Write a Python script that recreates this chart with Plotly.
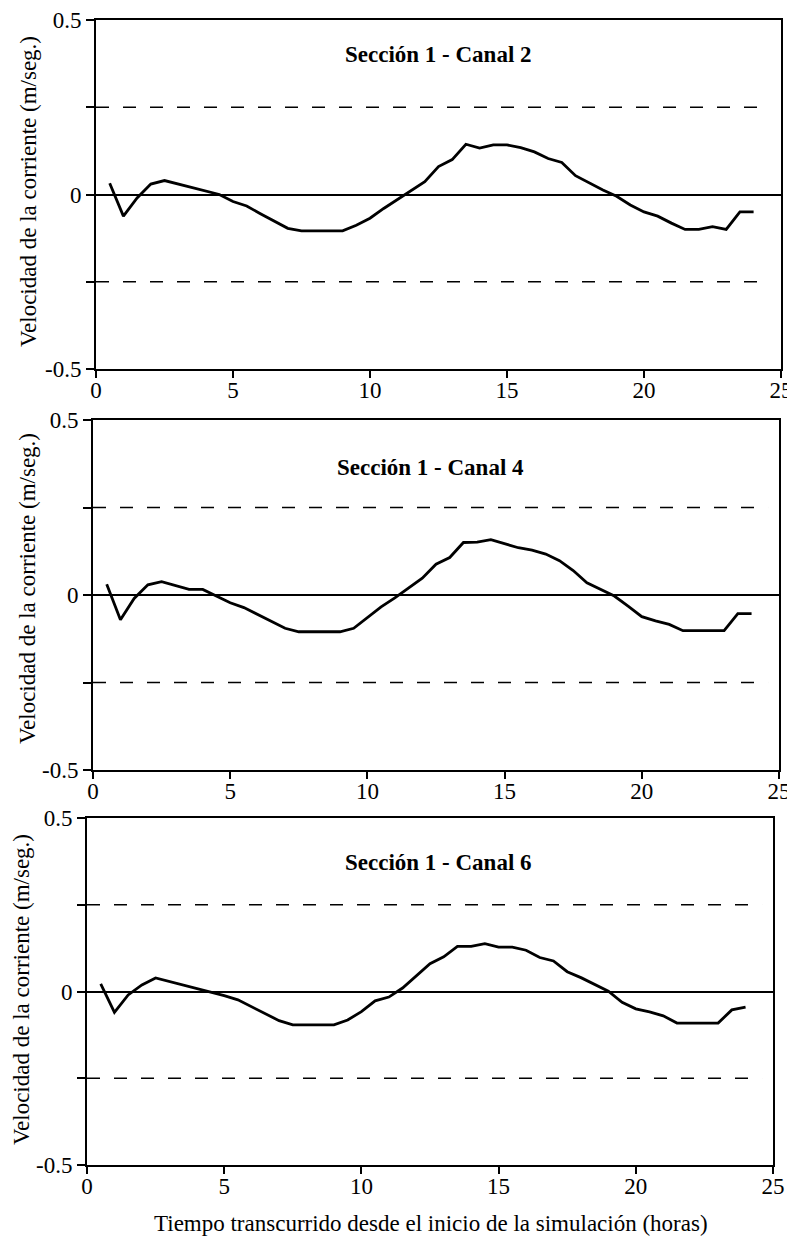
import plotly.graph_objects as go

hours = [0.5, 1.0, 1.5, 2.0, 2.5, 3.0, 3.5, 4.0, 4.5, 5.0, 5.5, 6.0, 6.5, 7.0, 7.5, 8.0,
         8.5, 9.0, 9.5, 10.0, 10.5, 11.0, 11.5, 12.0, 12.5, 13.0, 13.5, 14.0, 14.5, 15.0,
         15.5, 16.0, 16.5, 17.0, 17.5, 18.0, 18.5, 19.0, 19.5, 20.0, 20.5, 21.0, 21.5,
         22.0, 22.5, 23.0, 23.5, 24.0]

canal_2 = [0.032, -0.062, -0.010, 0.030, 0.040, 0.030, 0.020, 0.010, 0.000, -0.020,
           -0.033, -0.055, -0.077, -0.097, -0.104, -0.104, -0.104, -0.104, -0.088, -0.068,
           -0.040, -0.015, 0.010, 0.037, 0.080, 0.100, 0.144, 0.133, 0.142, 0.142,
           0.134, 0.122, 0.103, 0.092, 0.054, 0.033, 0.013, -0.005, -0.030, -0.050,
           -0.062, -0.082, -0.100, -0.100, -0.092, -0.100, -0.050, -0.050]

canal_4 = [0.031, -0.071, -0.010, 0.029, 0.038, 0.026, 0.016, 0.016, -0.002, -0.022,
           -0.036, -0.056, -0.076, -0.095, -0.105, -0.105, -0.105, -0.105, -0.095, -0.065,
           -0.034, -0.008, 0.020, 0.048, 0.088, 0.107, 0.150, 0.151, 0.158, 0.146,
           0.135, 0.128, 0.117, 0.098, 0.070, 0.035, 0.016, -0.003, -0.032, -0.062,
           -0.074, -0.084, -0.102, -0.102, -0.102, -0.102, -0.053, -0.053]

canal_6 = [0.022, -0.060, -0.010, 0.019, 0.039, 0.029, 0.019, 0.009, -0.001, -0.012,
           -0.024, -0.044, -0.064, -0.084, -0.096, -0.096, -0.096, -0.096, -0.082, -0.058,
           -0.027, -0.016, 0.010, 0.045, 0.080, 0.100, 0.130, 0.130, 0.138, 0.128,
           0.128, 0.119, 0.098, 0.088, 0.057, 0.040, 0.020, 0.001, -0.031, -0.050,
           -0.059, -0.070, -0.091, -0.091, -0.091, -0.091, -0.053, -0.045]

panel_titles = ["Sección 1 - Canal 2", "Sección 1 - Canal 4", "Sección 1 - Canal 6"]
limit_levels = [0.25, -0.25]
limit_extent = [0, 24.6]
x_ticks = [0, 5, 10, 15, 20, 25]
y_ticks = [-0.5, -0.25, 0, 0.25, 0.5]
y_ticktext = ["-0.5", "", "0", "", "0.5"]
y_title = "Velocidad de la corriente (m/seg.)"
x_title = "Tiempo transcurrido desde el inicio de la simulación (horas)"

series = [canal_2, canal_4, canal_6]

# The page body adds an 8 px margin, so the figure is laid out in page pixels minus 8.
OFF = 8
W, H = 795 - OFF, 1244 - 2 * OFF
# pixel boxes (page coords) of each panel: (left, right, top, bottom)
boxes = [(96, 781, 20, 369), (93, 779, 420, 770), (87, 773, 818, 1165)]
title_pos = [(12.5, 0.40), (12.3, 0.363), (12.8, 0.373)]
ytitle_px = [(28, 192), (27, 589), (21, 990)]
xtitle_px = (431, 1223)


def fx(px):
    return (px - OFF) / W


def fy(py):
    return 1 - (py - OFF) / H


FONT = "Liberation Serif"

fig = go.Figure()
layout = dict(
    width=W, height=H,
    margin=dict(l=0, r=0, t=0, b=0),
    paper_bgcolor="white", plot_bgcolor="white",
    showlegend=False,
    font=dict(family=FONT, size=22, color="black"),
)

annotations = []
for i, vals in enumerate(series):
    n = "" if i == 0 else str(i + 1)
    xa, ya = "x" + n, "y" + n
    l, r, t, b = boxes[i]
    layout["xaxis" + n] = dict(
        domain=[fx(l), fx(r)], anchor=ya, range=[0, 25],
        tickvals=x_ticks, ticks="outside", ticklen=7, tickwidth=1.5, tickcolor="black",
        ticklabelstandoff=-8,
        showline=True, linecolor="black", linewidth=2, mirror=True,
        showgrid=False, zeroline=False, automargin=False,
        tickfont=dict(family=FONT, size=23, color="black"),
    )
    layout["yaxis" + n] = dict(
        domain=[fy(b), fy(t)], anchor=xa, range=[-0.5, 0.5],
        tickvals=y_ticks, ticktext=y_ticktext, ticks="outside", ticklen=8,
        tickwidth=1.5, tickcolor="black",
        showline=True, linecolor="black", linewidth=2, mirror=True,
        showgrid=False, zeroline=True, zerolinecolor="black", zerolinewidth=1.5,
        automargin=False,
        tickfont=dict(family=FONT, size=23, color="black"),
    )
    for lev in limit_levels:
        fig.add_trace(go.Scatter(
            x=limit_extent, y=[lev, lev], mode="lines", xaxis=xa, yaxis=ya,
            line=dict(color="black", width=1.6, dash="13px,14px"), hoverinfo="skip"))
    fig.add_trace(go.Scatter(
        x=hours, y=vals, mode="lines", xaxis=xa, yaxis=ya,
        line=dict(color="black", width=2.8)))
    tx, ty = title_pos[i]
    annotations.append(dict(
        x=tx, y=ty, xref=xa, yref=ya, text="<b>" + panel_titles[i] + "</b>",
        showarrow=False, font=dict(family=FONT, size=23, color="black"),
        xanchor="center", yanchor="middle"))
    px, py = ytitle_px[i]
    annotations.append(dict(
        x=fx(px), y=fy(py), xref="paper", yref="paper", text=y_title,
        textangle=-90, showarrow=False,
        font=dict(family=FONT, size=23, color="black"),
        xanchor="center", yanchor="middle"))

annotations.append(dict(
    x=fx(xtitle_px[0]), y=fy(xtitle_px[1]), xref="paper", yref="paper", text=x_title,
    showarrow=False, font=dict(family=FONT, size=23, color="black"),
    xanchor="center", yanchor="middle"))

layout["annotations"] = annotations
fig.update_layout(**layout)
fig.write_html("out.html")
